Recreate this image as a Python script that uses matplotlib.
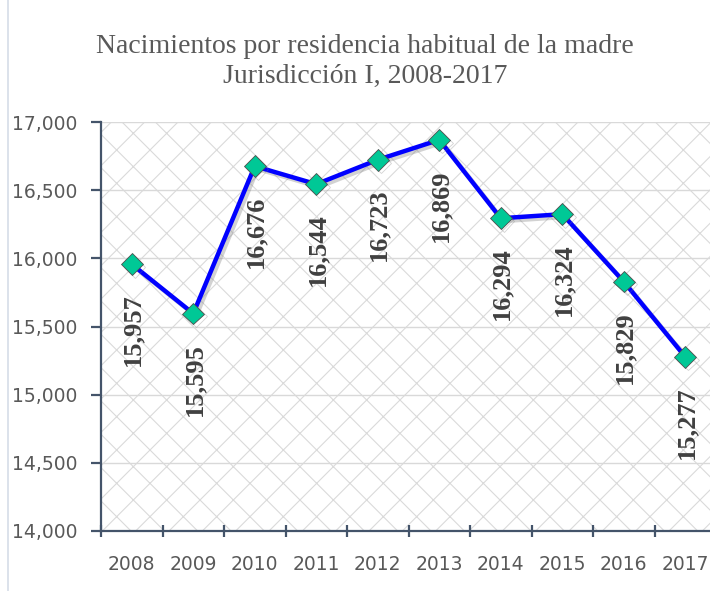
import matplotlib
matplotlib.use("Agg")
import matplotlib.pyplot as plt
import matplotlib.patheffects as pe
from matplotlib.patches import Rectangle
from matplotlib.lines import Line2D
import numpy as np

years = ["2008", "2009", "2010", "2011", "2012", "2013", "2014", "2015", "2016", "2017"]
births = [15957, 15595, 16676, 16544, 16723, 16869, 16294, 16324, 15829, 15277]
yticks = [14000, 14500, 15000, 15500, 16000, 16500, 17000]
title = "Nacimientos por residencia habitual de la madre\nJurisdicción I, 2008-2017"

plt.rcParams['hatch.linewidth'] = 0.8
plt.rcParams['hatch.color'] = '#dadada'

fig = plt.figure(figsize=(7.10, 5.91), dpi=100)
ax = fig.add_axes([101/710., 60/591., 615/710., 409/591.])

x = np.arange(len(years))

# patterned plot background
ax.add_patch(Rectangle((0, 0), 1, 1, transform=ax.transAxes, facecolor='white',
                       edgecolor='#dadada', hatch='x', linewidth=0, zorder=0))

for v in yticks[1:]:
	ax.axhline(v, color='#d9d9d9', linewidth=1.0, zorder=1)

ax.plot(x, births, color='#0000ff', linewidth=3.2, marker='D', markersize=11,
	markerfacecolor='#00c896', markeredgecolor='#4d4d4d', markeredgewidth=0.6, zorder=3,
	path_effects=[pe.SimpleLineShadow(offset=(2, -2), shadow_color='#808080', alpha=0.35), pe.Normal()])

for i, v in enumerate(births):
	ax.annotate("{:,}".format(v), (x[i], v), xytext=(1, -21), textcoords='offset points',
		rotation=90, ha='center', va='top', fontsize=19, fontweight='bold',
		family='Liberation Serif', color='#404040', zorder=4)

ax.set_xlim(-0.5, len(years) - 0.5)
ax.set_ylim(14000, 17000)
ax.set_yticks(yticks)
ax.set_yticklabels(["{:,}".format(v) for v in yticks])
ax.set_xticks(x)
ax.set_xticklabels(years)
ax.set_xticks(np.arange(len(years)) - 0.5, minor=True)

axis_col = '#44546a'
for s in ['top', 'right']:
	ax.spines[s].set_visible(False)
for s in ['left', 'bottom']:
	ax.spines[s].set_color(axis_col)
	ax.spines[s].set_linewidth(1.6)
	ax.spines[s].set_zorder(5)

ax.tick_params(axis='y', length=7, width=1.6, color=axis_col, labelsize=13.5, labelcolor='#595959', pad=10)
ax.tick_params(axis='x', which='major', length=0, labelsize=13.5, labelcolor='#595959', pad=17)
ax.tick_params(axis='x', which='minor', length=8, width=1.6, color=axis_col, direction='inout')

fig.text(0.514, 0.943, title, ha='center', va='top', fontsize=20,
	family='Liberation Serif', color='#595959', linespacing=1.25)

# chart area border on the left
fig.add_artist(Line2D([8/710., 8/710.], [0, 1], transform=fig.transFigure, color='#d5dde8', linewidth=1.2))

plt.savefig("out.png", dpi=100)
